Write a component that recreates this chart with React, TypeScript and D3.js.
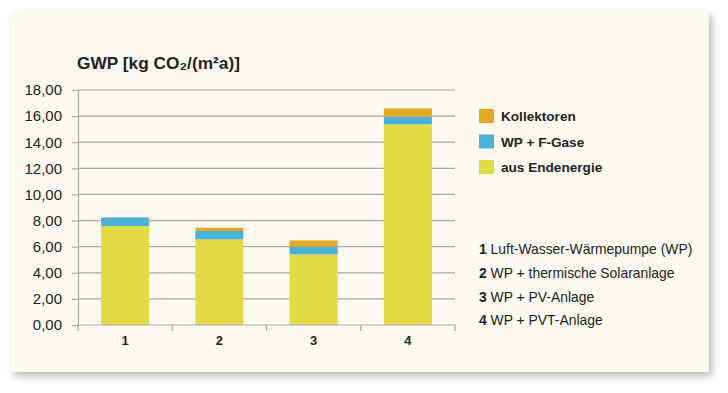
import React, { useEffect, useRef } from 'react';
import * as d3 from 'd3';

// Categories (systems) and stacked series values, kg CO2/(m²a)
const categories = ['1', '2', '3', '4'];
const ausEndenergie = [7.58, 6.56, 5.41, 15.37];
const wpFGase = [0.66, 0.64, 0.59, 0.58];
const kollektoren = [0, 0.25, 0.48, 0.64];

const seriesNames = ['aus Endenergie', 'WP + F-Gase', 'Kollektoren'];
const seriesColors = ['#e2db45', '#4cb1d9', '#e2aa22'];

const yTicks = [0, 2, 4, 6, 8, 10, 12, 14, 16, 18];

const systemLabels = [
  'Luft-Wasser-Wärmepumpe (WP)',
  'WP + thermische Solaranlage',
  'WP + PV-Anlage',
  'WP + PVT-Anlage',
];

const W = 728;
const H = 393;

const App: React.FC = () => {
  const svgRef = useRef<SVGSVGElement>(null);

  useEffect(() => {
    const svg = d3.select(svgRef.current);
    svg.selectAll('*').remove();

    const font = 'Arial, "Liberation Sans", Helvetica, sans-serif';

    // card with shadow
    const defs = svg.append('defs');
    const filter = defs.append('filter')
      .attr('id', 'shadow')
      .attr('x', '-5%').attr('y', '-5%')
      .attr('width', '110%').attr('height', '115%');
    filter.append('feDropShadow')
      .attr('dx', 3).attr('dy', 4)
      .attr('stdDeviation', 3.5)
      .attr('flood-color', '#000')
      .attr('flood-opacity', 0.28);

    svg.append('rect')
      .attr('x', 11).attr('y', 11)
      .attr('width', 698).attr('height', 361)
      .attr('fill', '#fcf9f0')
      .attr('filter', 'url(#shadow)');

    const left = 78;
    const right = 455;
    const top = 90;
    const bottom = 325;

    const x = d3.scaleBand<string>()
      .domain(categories)
      .range([left, right])
      .paddingInner(0.49)
      .paddingOuter(0.245);

    const y = d3.scaleLinear()
      .domain([0, 18])
      .range([bottom, top]);

    // gridlines
    svg.append('g')
      .selectAll('line')
      .data(yTicks.filter(t => t > 0))
      .enter()
      .append('line')
      .attr('x1', left).attr('x2', right)
      .attr('y1', d => y(d)).attr('y2', d => y(d))
      .attr('stroke', '#a9a9a6')
      .attr('stroke-width', 1.2);

    // stacked bars
    const rows = categories.map((c, i) => ({
      cat: c,
      'aus Endenergie': ausEndenergie[i],
      'WP + F-Gase': wpFGase[i],
      'Kollektoren': kollektoren[i],
    }));
    const stacked = d3.stack<any>().keys(seriesNames)(rows);

    svg.append('g')
      .selectAll('g')
      .data(stacked)
      .enter()
      .append('g')
      .attr('fill', (_, i) => seriesColors[i])
      .selectAll('rect')
      .data(d => d)
      .enter()
      .append('rect')
      .attr('x', d => x(d.data.cat) as number)
      .attr('width', x.bandwidth())
      .attr('y', d => y(d[1]))
      .attr('height', d => y(d[0]) - y(d[1]));

    // y axis
    const yAxis = svg.append('g')
      .attr('transform', `translate(${left},0)`)
      .call(d3.axisLeft(y).tickValues(yTicks).tickSize(6).tickPadding(10)
        .tickFormat(d => d3.format('.2f')(d as number).replace('.', ',')));
    yAxis.select('.domain').attr('stroke', '#a9a9a6').attr('stroke-width', 1.2);
    yAxis.selectAll('.tick line').attr('stroke', '#a9a9a6').attr('stroke-width', 1.2);
    yAxis.selectAll('.tick text')
      .attr('fill', '#222')
      .attr('font-family', font)
      .attr('font-size', 15);

    // x axis with separators between categories
    const xg = svg.append('g').attr('transform', `translate(0,${bottom})`);
    xg.append('line')
      .attr('x1', left).attr('x2', right)
      .attr('stroke', '#a9a9a6').attr('stroke-width', 1.2);
    const step = x.step();
    const seps = d3.range(categories.length + 1).map(i => left + i * step);
    xg.selectAll('.sep')
      .data(seps)
      .enter()
      .append('line')
      .attr('x1', d => d).attr('x2', d => d)
      .attr('y1', 0).attr('y2', 6)
      .attr('stroke', '#a9a9a6').attr('stroke-width', 1.2);
    xg.selectAll('.lbl')
      .data(categories)
      .enter()
      .append('text')
      .attr('x', d => (x(d) as number) + x.bandwidth() / 2)
      .attr('y', 20)
      .attr('text-anchor', 'middle')
      .attr('font-family', font)
      .attr('font-weight', 'bold')
      .attr('font-size', 13)
      .attr('fill', '#222')
      .text(d => d);

    // title
    svg.append('text')
      .attr('x', 77).attr('y', 69)
      .attr('font-family', font)
      .attr('font-weight', 'bold')
      .attr('font-size', 17.3)
      .attr('fill', '#222')
      .text('GWP [kg CO₂/(m²a)]');

    // legend (top-down: Kollektoren, WP + F-Gase, aus Endenergie)
    const legendOrder = [2, 1, 0];
    const lg = svg.append('g');
    legendOrder.forEach((si, i) => {
      const yy = 109 + i * 25.5;
      lg.append('rect')
        .attr('x', 479).attr('y', yy)
        .attr('width', 15).attr('height', 14)
        .attr('fill', seriesColors[si]);
      lg.append('text')
        .attr('x', 501).attr('y', yy + 12)
        .attr('font-family', font)
        .attr('font-weight', 'bold')
        .attr('font-size', 13.6)
        .attr('fill', '#222')
        .text(seriesNames[si]);
    });

    // system descriptions
    systemLabels.forEach((lbl, i) => {
      const t = svg.append('text')
        .attr('x', 479).attr('y', 254 + i * 23.8)
        .attr('font-family', font)
        .attr('font-size', 13.9)
        .attr('fill', '#222');
      t.append('tspan').attr('font-weight', 'bold').text(categories[i]);
      t.append('tspan').text(' ' + lbl);
    });
  }, []);

  return (
    <div style={{ position: 'absolute', left: 0, top: 0, background: '#fff' }}>
      <svg ref={svgRef} width={W} height={H} style={{ display: 'block' }}></svg>
    </div>
  );
};

export default App;
